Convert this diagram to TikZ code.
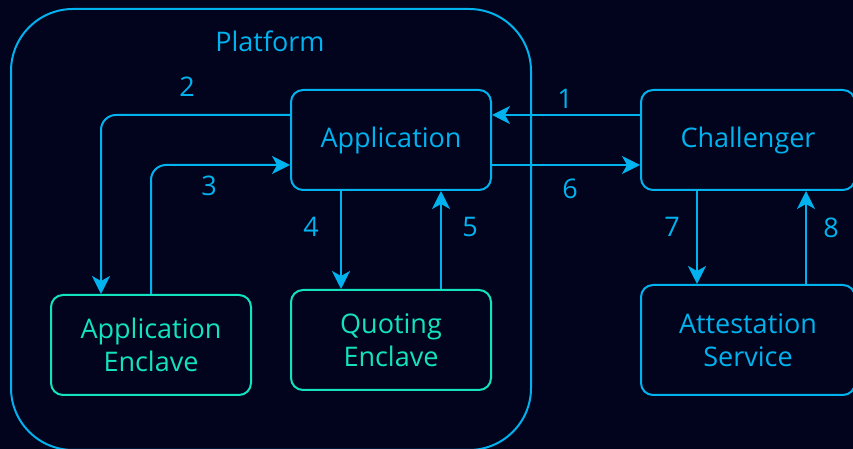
\documentclass[tikz,border=0pt]{standalone}
\usepackage{fontspec}
\setmainfont{Open Sans}
\usetikzlibrary{arrows.meta}
\definecolor{bg}{HTML}{02031C}
\definecolor{cblue}{HTML}{00B2EE}
\definecolor{cteal}{HTML}{12E3BE}
\begin{document}
\begin{tikzpicture}[x=1pt,y=1pt,
  box/.style={draw=cblue,text=cblue,line width=2pt,rounded corners=12pt,align=center,
    font=\fontsize{27}{33}\selectfont,minimum width=200pt,minimum height=100pt,inner sep=0pt},
  encl/.style={box,draw=cteal,text=cteal},
  arr/.style={draw=cblue,line width=2pt,-{Stealth[length=18pt 0 0,width=18pt 0,inset=5pt 0]}},
  num/.style={text=cblue,font=\fontsize{27}{30}\selectfont,inner sep=0pt}]
\fill[bg] (0,0) rectangle (853,449);
\useasboundingbox (0,0) rectangle (853,449);
\node[draw=cblue,line width=2pt,rounded corners=62pt,minimum width=520pt,minimum height=441pt,inner sep=0pt] (platform) at (271,219.5) {};
\node[text=cblue,font=\fontsize{27}{30}\selectfont] (plabel) at (270,408) {Platform};
\node[box] (app) at (391,309) {Application};
\node[box,minimum width=214pt] (chal) at (748,309) {Challenger};
\node[box,minimum width=214pt,minimum height=110pt] (att) at (748,109) {Attestation\\Service};
\node[encl] (ae) at (151,104) {Application\\Enclave};
\node[encl] (qe) at (391,109) {Quoting\\Enclave};
% arrows
\draw[arr] ([yshift=25pt]chal.west) -- ([yshift=25pt]app.east);
\draw[arr] ([yshift=-25pt]app.east) -- ([yshift=-25pt]chal.west);
\draw[arr,rounded corners=15pt] ([yshift=25pt]app.west) -| ([xshift=-50pt]ae.north);
\draw[arr,rounded corners=15pt] (ae.north) |- ([yshift=-25pt]app.west);
\draw[arr] ([xshift=-50pt]app.south) -- ([xshift=-50pt]app.south |- qe.north);
\draw[arr] ([xshift=50pt]qe.north) -- ([xshift=50pt]qe.north |- app.south);
\draw[arr] ([xshift=-51pt]chal.south) -- ([xshift=-51pt]chal.south |- att.north);
\draw[arr] ([xshift=58pt]att.north) -- ([xshift=58pt]att.north |- chal.south);
% labels
\node[num] (n1) at (565,350) {1};
\node[num] (n2) at (187,362) {2};
\node[num] (n3) at (209,263) {3};
\node[num] (n4) at (311,222) {4};
\node[num] (n5) at (470,222) {5};
\node[num] (n6) at (570,260) {6};
\node[num] (n7) at (672,222) {7};
\node[num] (n8) at (831,221) {8};
\end{tikzpicture}
\end{document}
